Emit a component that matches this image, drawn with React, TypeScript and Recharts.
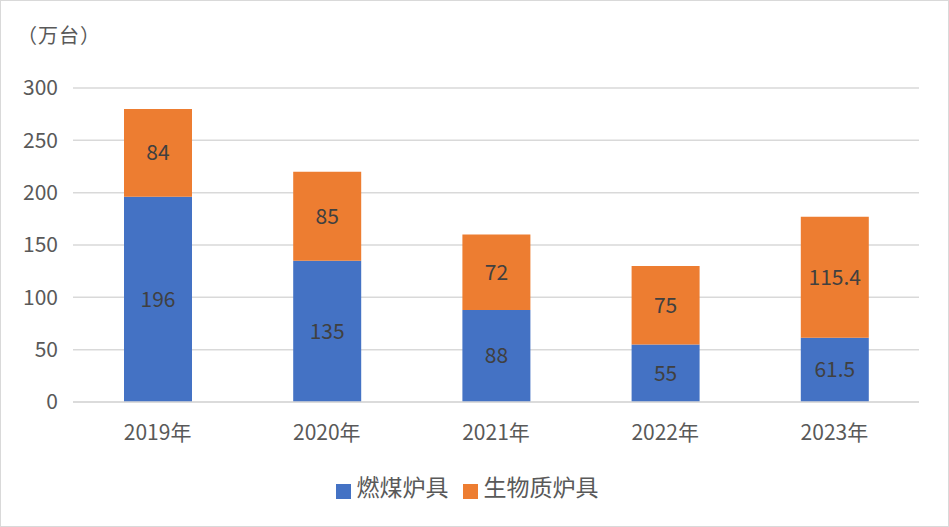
import { BarChart, Bar, XAxis, YAxis, CartesianGrid, Legend, LabelList } from "recharts";

const years = ["2019年", "2020年", "2021年", "2022年", "2023年"];
const coalStoves = [196, 135, 88, 55, 61.5];
const biomassStoves = [84, 85, 72, 75, 115.4];
const yTicks = [0, 50, 100, 150, 200, 250, 300];

const FONT = '"Noto Sans CJK SC", "Noto Sans", sans-serif';
const TEXT = "#595959";

const data = years.map((year, i) => ({
  year,
  coal: coalStoves[i],
  biomass: biomassStoves[i],
}));

export default function App() {
  return (
    <div
      style={{
        position: "absolute",
        left: 0,
        top: 0,
        width: 949,
        height: 527,
        border: "1.5px solid #d9d9d9",
        boxSizing: "border-box",
        background: "#fff",
        fontFamily: FONT,
      }}
    >
      <div style={{ position: "absolute", left: 16, top: 19, fontSize: 20, color: TEXT, letterSpacing: 1 }}>（万台）</div>
      <BarChart
        width={946}
        height={524}
        data={data}
        margin={{ top: 87, right: 28, left: 0, bottom: 63 }}
        style={{ position: "absolute", left: 0, top: 0 }}
      >
        <CartesianGrid vertical={false} stroke="#d9d9d9" strokeWidth={1.5} />
        <XAxis
          dataKey="year"
          height={60}
          tickLine={false}
          axisLine={{ stroke: "#d9d9d9", strokeWidth: 1.5 }}
          tick={{ fill: TEXT, fontSize: 21, fontFamily: FONT }}
          tickMargin={17}
        />
        <YAxis
          width={72}
          domain={[0, 300]}
          ticks={yTicks}
          tickLine={false}
          axisLine={false}
          tickSize={0}
          tickMargin={15}
          tick={{ fill: TEXT, fontSize: 21, fontFamily: FONT }}
        />
        <Legend
          verticalAlign="middle"
          align="center"
          layout="horizontal"
          iconType="square"
          iconSize={15}
          wrapperStyle={{ top: 468, left: 0, width: 946 }}
          formatter={(value) => (
            <span style={{ color: TEXT, fontSize: 23, fontFamily: FONT, marginLeft: 2, marginRight: 4 }}>{value}</span>
          )}
        />
        <Bar dataKey="coal" name="燃煤炉具" stackId="a" fill="#4472c4" barSize={68} isAnimationActive={false}>
          <LabelList dataKey="coal" position="center" fill="#404040" fontSize={21} fontFamily={FONT} />
        </Bar>
        <Bar dataKey="biomass" name="生物质炉具" stackId="a" fill="#ed7d31" barSize={68} isAnimationActive={false}>
          <LabelList dataKey="biomass" position="center" fill="#404040" fontSize={21} fontFamily={FONT} />
        </Bar>
      </BarChart>
    </div>
  );
}
